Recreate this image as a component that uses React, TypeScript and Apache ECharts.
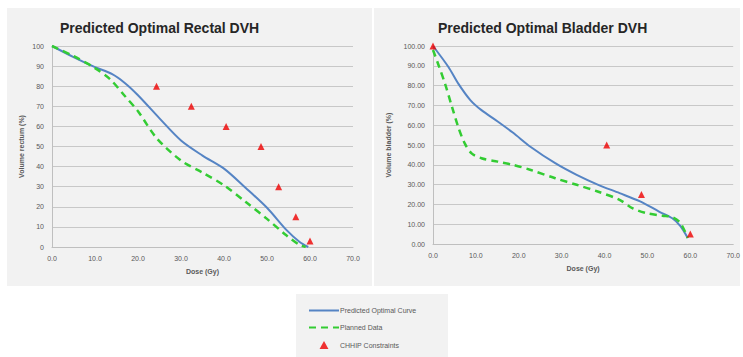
import React, { useEffect, useRef } from "react";
import * as echarts from "echarts";

const rectalPredicted: [number, number][] = [
  [0, 100], [5, 94.5], [10, 89.5], [14, 86], [17, 81.5], [20, 75.5], [25, 64], [30, 53],
  [35, 45.5], [40, 39], [45, 29.5], [50, 19.5], [54.5, 8.5], [57.6, 2.5], [59.6, 0],
];
const rectalPlanned: [number, number][] = [
  [0, 100], [5, 95], [10, 89], [13.5, 83.5], [17, 75], [20, 67.5], [24.4, 54], [30, 43], [35, 37],
  [40, 30.7], [45, 22.5], [50, 14], [54.5, 5.8], [57.6, 1], [59, 0],
];
const rectalConstraints: [number, number][] = [
  [24.3, 80], [32.4, 70], [40.5, 60], [48.6, 50], [52.7, 30], [56.7, 15], [60, 3],
];

const bladderPredicted: [number, number][] = [
  [0, 100], [3.6, 89.4], [5.9, 81], [8.7, 72.7], [11.3, 67.6], [15, 62], [18.6, 56.3], [22.8, 49],
  [28.5, 40.8], [33.5, 34.9], [38.4, 30], [43.5, 25.7], [48.3, 21.5], [52.7, 16.4], [55.8, 13],
  [57.7, 9], [59.4, 3],
];
const bladderPlanned: [number, number][] = [
  [0, 98], [1.3, 90.3], [2.8, 81], [4.4, 69.5], [5.9, 59], [7.4, 50.8], [9, 45.8], [11.3, 43.3],
  [15.1, 41.6], [18.6, 40], [22.8, 37.4], [28.5, 33.2], [33.5, 29.9], [38.4, 26.5], [43.5, 22.3],
  [46.6, 18], [49.7, 15.6], [53.5, 14.3], [55.8, 13.6], [57.7, 10.6], [59.4, 3],
];
const bladderConstraints: [number, number][] = [
  [0, 100], [40.5, 50], [48.6, 25], [60, 5],
];

const titles = ["Predicted Optimal Rectal DVH", "Predicted Optimal Bladder DVH"];
const yNames = ["Volume rectum (%)", "Volume bladder (%)"];
const xName = "Dose (Gy)";
const legendNames = ["Predicted Optimal Curve", "Planned Data", "CHHIP Constraints"];

const FONT = "Liberation Sans";
const BLUE = "#5584c4";
const GREEN = "#33cc33";
const RED = "#ee0000";
const LABEL = "#595959";

export default function App() {
  const ref = useRef<HTMLDivElement>(null);
  useEffect(() => {
    if (!ref.current) return;
    const chart = echarts.init(ref.current, null, { renderer: "svg" });
    const xAxis = (gi: number) => ({
      type: "value",
      gridIndex: gi,
      min: 0,
      max: 70,
      interval: 10,
      name: xName,
      nameLocation: "middle",
      nameGap: 21,
      nameTextStyle: { fontSize: 7, fontWeight: "bold", color: LABEL, fontFamily: FONT },
      axisLine: { show: true, lineStyle: { color: "#bfbfbf" } },
      axisTick: { show: false },
      splitLine: { show: false },
      axisLabel: { fontSize: 7, color: LABEL, fontFamily: FONT, margin: 8, formatter: (v: number) => v.toFixed(1) },
    });
    const yAxis = (gi: number, gap: number, dec: number) => ({
      type: "value",
      gridIndex: gi,
      min: 0,
      max: 100,
      interval: 10,
      name: yNames[gi],
      nameLocation: "middle",
      nameGap: gap,
      nameTextStyle: { fontSize: 7, fontWeight: "bold", color: LABEL, fontFamily: FONT },
      axisLine: { show: true, lineStyle: { color: "#bfbfbf" } },
      axisTick: { show: false },
      splitLine: { show: true, lineStyle: { color: "#c8c8c8" } },
      axisLabel: { fontSize: 7, color: LABEL, fontFamily: FONT, margin: 8, formatter: (v: number) => v.toFixed(dec) },
    });
    const lineSeries = (name: string, data: [number, number][], gi: number, dashed: boolean) => ({
      type: "line",
      name,
      xAxisIndex: gi,
      yAxisIndex: gi,
      data,
      smooth: 0.3,
      showSymbol: false,
      symbol: "none",
      lineStyle: dashed
        ? { color: GREEN, width: 2.5, type: [7, 5] }
        : { color: BLUE, width: 2 },
      itemStyle: { color: dashed ? GREEN : BLUE },
      z: dashed ? 3 : 2,
    });
    const scatter = (data: [number, number][], gi: number) => ({
      type: "scatter",
      name: legendNames[2],
      xAxisIndex: gi,
      yAxisIndex: gi,
      data,
      symbol: "triangle",
      symbolSize: 7,
      itemStyle: { color: RED },
      z: 5,
    });
    chart.setOption({
      animation: false,
      backgroundColor: "#ffffff",
      graphic: [
        { type: "rect", z: -10, shape: { x: 7, y: 8, width: 365, height: 278 }, style: { fill: "#f2f2f2" } },
        { type: "rect", z: -10, shape: { x: 374, y: 8, width: 366, height: 278 }, style: { fill: "#f2f2f2" } },
        { type: "rect", z: -10, shape: { x: 296, y: 294, width: 152, height: 63 }, style: { fill: "#f2f2f2" } },
      ],
      title: [
        { text: titles[0], left: 55, top: 16, textStyle: { fontSize: 14, fontWeight: "bold", color: "#262626", fontFamily: FONT } },
        { text: titles[1], left: 433, top: 16, textStyle: { fontSize: 14, fontWeight: "bold", color: "#262626", fontFamily: FONT } },
      ],
      legend: {
        orient: "vertical",
        left: 308,
        top: 307,
        height: 50,
        padding: 0,
        itemWidth: 30,
        itemHeight: 8,
        itemGap: 10,
        data: [
          { name: legendNames[0], itemStyle: { opacity: 0 } },
          { name: legendNames[1], itemStyle: { opacity: 0 } },
          { name: legendNames[2], icon: "path://M5,0 L10,9 L0,9 Z" },
        ],
        textStyle: { fontSize: 7, color: LABEL, fontFamily: FONT, padding: [0, 0, 0, -4] },
      },
      grid: [
        { left: 52, right: 390, top: 46, bottom: 110 },
        { left: 433, right: 9, top: 46, bottom: 113 },
      ],
      xAxis: [xAxis(0), xAxis(1)],
      yAxis: [yAxis(0, 27, 0), yAxis(1, 41, 2)],
      series: [
        lineSeries(legendNames[0], rectalPredicted, 0, false),
        lineSeries(legendNames[1], rectalPlanned, 0, true),
        scatter(rectalConstraints, 0),
        lineSeries(legendNames[0], bladderPredicted, 1, false),
        lineSeries(legendNames[1], bladderPlanned, 1, true),
        scatter(bladderConstraints, 1),
      ],
    });
    return () => chart.dispose();
  }, []);
  return <div ref={ref} style={{ position: "fixed", left: 0, top: 0, width: 743, height: 357 }} />;
}
